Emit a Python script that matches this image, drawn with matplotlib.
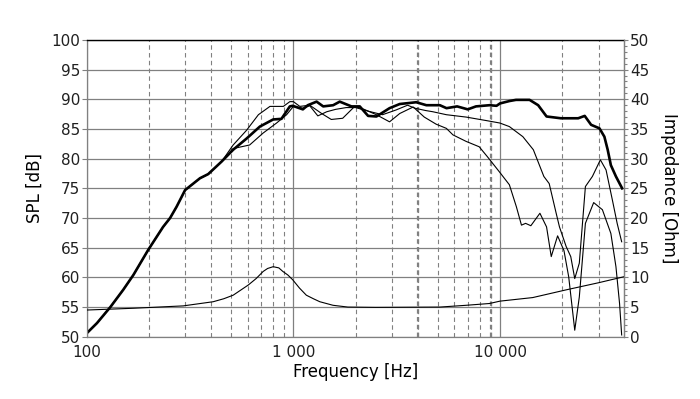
import matplotlib
matplotlib.use("Agg")
import matplotlib.pyplot as plt
from matplotlib.ticker import FixedLocator, NullFormatter, MultipleLocator

plt.rcParams['font.family'] = ['DejaVu Sans']

# shared low-frequency part (all three SPL curves coincide here)
f_low = [100, 112, 130, 150, 168, 198, 234, 253, 272, 299, 353, 387, 449]
spl_low = [50.6, 52.3, 55.0, 57.9, 60.4, 64.6, 68.5, 70.0, 71.9, 74.7, 76.7, 77.4, 79.5]

# on-axis SPL (thick)
f_on = [511, 594, 688, 798, 875, 961, 992, 1111, 1174, 1295, 1394, 1557, 1676,
        1910, 2095, 2299, 2522, 2919, 3270, 3930, 4400, 5115, 5510, 6200, 6980,
        7650, 8890, 9620, 10000, 11100, 11950, 13900, 15300, 16800, 19700, 23900,
        25700, 27600, 30300, 32000, 33200, 34400, 36400, 39000]
spl_on = [81.5, 83.4, 85.4, 86.6, 86.7, 88.8, 88.9, 88.3, 89.0, 89.6, 88.8, 89.0, 89.6,
          88.8, 88.8, 87.2, 87.1, 88.5, 89.2, 89.5, 89.0, 89.0, 88.5, 88.8, 88.3,
          88.8, 89.0, 88.9, 89.3, 89.7, 89.9, 89.9, 89.0, 87.1, 86.8, 86.8,
          87.2, 85.7, 85.1, 83.7, 81.5, 78.9, 77.0, 75.0]

# off-axis SPL, steepest roll-off (thin)
f_a = [511, 594, 677, 770, 894, 961, 1000, 1074, 1200, 1370, 1525, 1732, 1980,
       2200, 2520, 2920, 3270, 3800, 4300, 4910, 5500, 5920, 6860, 7930, 8700,
       9970, 11100, 12000, 12700, 13300, 14100, 15600, 16800, 17700, 19000,
       20400, 21500, 23000, 24200, 25900, 28400, 31300, 34400, 36400, 37900, 38800]
spl_a = [82.3, 84.8, 87.4, 88.8, 88.8, 89.6, 89.6, 88.8, 89.0, 87.6, 86.6, 86.8, 88.8,
         88.3, 87.4, 86.2, 87.6, 88.7, 87.0, 85.8, 85.1, 84.0, 82.9, 82.0, 80.3,
         77.7, 75.6, 71.9, 68.8, 69.1, 68.7, 70.8, 68.5, 63.5, 67.0,
         64.5, 60.1, 51.1, 56.7, 69.1, 72.6, 71.4, 67.4, 61.8, 55.6, 50.3]

# off-axis SPL, moderate roll-off (thin)
f_b = [511, 614, 713, 829, 927, 1000, 1111, 1200, 1313, 1450, 1600, 1800, 2000,
       2300, 2700, 3140, 3570, 3870, 4370, 4730, 5500, 6860, 8620, 9980, 11100,
       12900, 14500, 16300, 17300, 18700, 19400, 20900, 22000, 23000, 24200,
       25900, 28000, 30600, 32600, 35000, 36900, 38800]
spl_b = [81.7, 82.3, 84.3, 86.0, 87.4, 88.8, 88.5, 88.9, 87.2, 87.9, 88.3, 88.6, 88.6,
         88.0, 87.4, 88.2, 89.0, 88.5, 88.1, 87.9, 87.4, 87.0, 86.4, 86.0, 85.4,
         83.7, 81.5, 77.0, 75.8, 70.8, 68.5, 65.2, 63.5, 59.8, 62.4,
         75.3, 77.0, 79.8, 78.1, 73.0, 69.1, 66.0]

# impedance [Ohm]
f_imp = [100, 168, 293, 409, 460, 511, 604, 660, 714, 750, 798, 850, 889, 940, 992,
         1070, 1155, 1250, 1342, 1555, 1835, 2500, 5115, 6860, 8890, 10000, 14400,
         20900, 30000, 39700]
z_imp = [4.5, 4.8, 5.2, 5.9, 6.4, 7.0, 8.7, 9.8, 11.0, 11.5, 11.8, 11.6, 11.0, 10.4, 9.6,
         8.2, 7.0, 6.4, 5.9, 5.3, 5.0, 4.95, 5.0, 5.3, 5.6, 6.0, 6.6,
         7.9, 9.1, 10.1]

minor_f = [200, 300, 400, 500, 600, 700, 800, 900,
           2000, 3000, 4000, 5000, 6000, 7000, 8000, 9000, 20000, 30000]

grid_col = '#808080'
txt_col = '#202020'

fig = plt.figure(figsize=(7, 3.99), dpi=100)
ax = fig.add_axes([0.124, 0.156, 0.768, 0.744])
ax.set_xscale('log')
ax.set_xlim(100, 40000)
ax.set_ylim(50, 100)

ax.set_yticks(range(50, 101, 5))
ax.set_xticks([100, 1000, 10000])
ax.set_xticklabels(['100', '1 000', '10 000'])
ax.xaxis.set_minor_locator(FixedLocator(minor_f))
ax.xaxis.set_minor_formatter(NullFormatter())

ax.grid(which='major', axis='both', color=grid_col, lw=0.9)
ax.grid(which='minor', axis='x', color=grid_col, lw=0.8, ls=(0, (4, 3)))
for fx in (4000, 9000):
    ax.axvline(fx, color=grid_col, lw=1.6, ls=(0, (2, 1.5)), zorder=0.5)
ax.set_axisbelow(True)

ax.plot(f_low + f_a, spl_low + spl_a, color='black', lw=0.8)
ax.plot(f_low + f_b, spl_low + spl_b, color='black', lw=0.8)
ax.plot(f_low + f_on, spl_low + spl_on, color='black', lw=1.9)

ax.tick_params(axis='x', which='both', length=0, pad=6, labelsize=11, labelcolor=txt_col)
ax.tick_params(axis='y', which='major', length=3.5, width=0.8, color=grid_col,
               pad=1.2, labelsize=11, labelcolor=txt_col)

for s in ('left', 'bottom', 'right'):
    ax.spines[s].set_color(grid_col)
    ax.spines[s].set_linewidth(0.9)
ax.spines['top'].set_color('black')
ax.spines['top'].set_linewidth(1.0)

ax2 = ax.twinx()
ax2.set_ylim(0, 50)
ax2.set_yticks(range(0, 51, 5))
ax2.yaxis.set_minor_locator(MultipleLocator(1))
ax2.plot(f_imp, z_imp, color='black', lw=0.8)
ax2.tick_params(axis='y', which='major', length=3, width=0.8, color=grid_col,
                pad=1.0, labelsize=11, labelcolor=txt_col)
ax2.tick_params(axis='y', which='minor', length=1.8, width=0.8, color=grid_col)
for s in ('left', 'bottom', 'top'):
    ax2.spines[s].set_visible(False)
ax2.spines['right'].set_color(grid_col)
ax2.spines['right'].set_linewidth(0.9)

ax.set_xlabel('Frequency [Hz]', fontsize=12, color='black')
ax.xaxis.set_label_coords(0.5, -0.088)
ax.set_ylabel('SPL [dB]', fontsize=12, color='black')
ax.yaxis.set_label_coords(-0.081, 0.5)
ax2.set_ylabel('Impedance [Ohm]', fontsize=12, color='black', rotation=270, va='bottom')
ax2.yaxis.set_label_coords(1.066, 0.5)

fig.savefig('out.png', dpi=100)
